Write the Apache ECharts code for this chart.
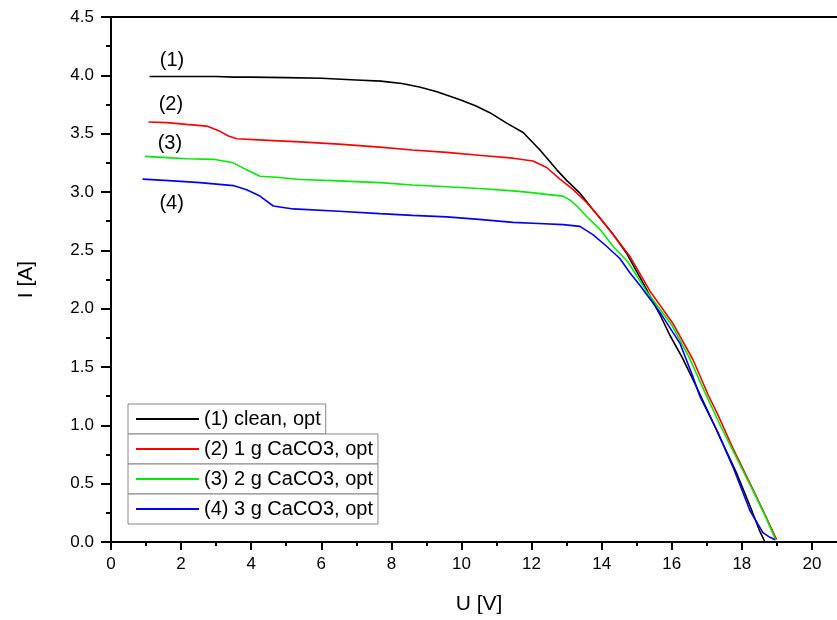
<!DOCTYPE html>
<html>
<head>
<meta charset="utf-8">
<script src="https://cdn.jsdelivr.net/npm/echarts@6/dist/echarts.min.js"></script>
<style>
html,body{margin:0;padding:0;background:#fff;}
#chart{width:837px;height:620px;}
</style>
</head>
<body>
<div id="chart"></div>
<script>
// ---- data ----
const seriesNames = ['(1) clean, opt', '(2) 1 g CaCO3, opt', '(3) 2 g CaCO3, opt', '(4) 3 g CaCO3, opt'];

// [U (V), I (A)]
const cleanIU = [
  [1.1,3.99],[2,3.99],[3,3.99],[3.5,3.985],[4,3.985],[5,3.98],[6,3.975],[7,3.96],[7.7,3.95],
  [8.3,3.93],[8.8,3.90],[9.3,3.86],[9.96,3.79],[10.4,3.74],[10.81,3.68],[11.29,3.59],[11.76,3.51],
  [12.24,3.36],[12.72,3.19],[13.0,3.10],[13.38,2.99],[13.75,2.85],[14.32,2.64],[14.72,2.47],
  [15.2,2.21],[15.66,1.95],[15.95,1.77],[16.3,1.58],[16.61,1.39],[17.0,1.14],[17.4,0.88],
  [17.85,0.59],[18.23,0.31],[18.5,0.10],[18.66,0.0]
];
const caco3g1IU = [
  [1.07,3.60],[1.6,3.595],[2.16,3.58],[2.73,3.565],[3.11,3.52],[3.35,3.48],[3.59,3.456],[4.35,3.445],
  [5.39,3.43],[6.5,3.41],[7.67,3.385],[8.6,3.36],[9.58,3.34],[10.5,3.315],[11.47,3.29],[12.04,3.265],
  [12.43,3.21],[12.81,3.11],[13.19,3.02],[13.57,2.91],[13.95,2.78],[14.52,2.56],[14.8,2.45],
  [15.38,2.15],[16.04,1.87],[16.61,1.56],[17.04,1.26],[17.3,1.10],[17.75,0.80],[18.32,0.45],
  [18.7,0.21],[18.99,0.02]
];
const caco3g2IU = [
  [0.97,3.305],[1.6,3.295],[2.16,3.285],[2.92,3.28],[3.49,3.25],[3.87,3.19],[4.25,3.135],[4.73,3.127],
  [5.39,3.107],[6.5,3.095],[7.67,3.08],[8.6,3.06],[9.58,3.045],[10.5,3.03],[11.47,3.01],[12.0,2.995],
  [12.43,2.98],[12.9,2.965],[13.1,2.93],[13.29,2.88],[13.57,2.79],[13.95,2.68],[14.32,2.535],
  [14.75,2.40],[15.3,2.14],[16.0,1.86],[16.5,1.58],[16.95,1.28],[17.4,0.99],[17.75,0.78],
  [18.3,0.45],[18.7,0.20],[18.96,0.02]
];
const caco3g3IU = [
  [0.9,3.11],[1.77,3.095],[2.54,3.08],[3.49,3.055],[3.87,3.02],[4.25,2.965],[4.63,2.88],[5.2,2.855],
  [6.5,2.835],[7.67,2.815],[8.6,2.80],[9.58,2.787],[10.5,2.765],[11.47,2.74],[12.2,2.73],[12.9,2.72],
  [13.38,2.705],[13.75,2.635],[14.14,2.535],[14.52,2.43],[14.8,2.31],[15.09,2.20],[15.66,1.97],
  [16.23,1.705],[16.6,1.42],[16.8,1.25],[17.3,0.95],[17.75,0.64],[18.23,0.27],[18.6,0.08],
  [18.8,0.04],[18.95,0.02]
];

const curveTags = ['(1)', '(2)', '(3)', '(4)'];
const curveTagU = [1.74, 1.71, 1.68, 1.73];
const curveTagI = [4.13, 3.75, 3.42, 2.90];

const xTickStep = 2;
const yTickStep = 0.5;

// ---- styles ----
const colors = ['#000000', '#ff0000', '#00ee00', '#0000ff'];
const allData = [cleanIU, caco3g1IU, caco3g2IU, caco3g3IU];
const FONT = '"Liberation Sans", Arial, sans-serif';

const chart = echarts.init(document.getElementById('chart'), null, {renderer: 'canvas'});

const lineSeries = allData.map((d, i) => ({
  name: seriesNames[i],
  type: 'line',
  data: d,
  showSymbol: false,
  symbol: 'none',
  lineStyle: {color: colors[i], width: 1.6},
  itemStyle: {color: colors[i]},
  z: 2 + i
}));

const tagSeries = {
  type: 'scatter',
  name: 'tags',
  data: curveTags.map((t, i) => [curveTagU[i], curveTagI[i], t]),
  symbolSize: 0,
  silent: true,
  itemStyle: {opacity: 1, color: '#000'},
  label: {
    show: true,
    position: 'inside',
    formatter: p => p.value[2],
    color: '#000',
    opacity: 1,
    fontSize: 20,
    fontFamily: FONT
  }
};

const legendTops = [404, 434, 464, 494];
const legends = seriesNames.map((n, i) => ({
  data: [n],
  left: 128,
  top: legendTops[i],
  orient: 'horizontal',
  selectedMode: false,
  icon: 'rect',
  itemWidth: 63,
  itemHeight: 2,
  padding: [5, 5, 5, 8],
  borderColor: '#888',
  borderWidth: 1,
  backgroundColor: '#fff',
  textStyle: {fontSize: 20, lineHeight: 20, color: '#000', fontFamily: FONT}
}));

chart.setOption({
  animation: false,
  grid: {left: 111, top: 17, right: -10, bottom: 78, outerBoundsMode: 'none'},
  legend: legends,
  xAxis: [{
    type: 'value',
    min: 0,
    max: 21,
    interval: xTickStep,
    name: 'U [V]',
    nameLocation: 'middle',
    nameGap: 52,
    nameTextStyle: {fontSize: 21, color: '#000', fontFamily: FONT},
    axisLine: {show: true, onZero: false, lineStyle: {color: '#000', width: 2}},
    axisTick: {show: true, length: 8, lineStyle: {color: '#000', width: 2}},
    minorTick: {show: true, splitNumber: 2, length: 4, lineStyle: {color: '#000', width: 2}},
    axisLabel: {
      fontSize: 17, color: '#000', fontFamily: FONT, margin: 14,
      formatter: v => (v % xTickStep === 0 ? String(v) : '')
    },
    splitLine: {show: false}
  }, {
    type: 'value',
    position: 'top',
    min: 0,
    max: 21,
    interval: xTickStep,
    axisLine: {show: true, onZero: false, lineStyle: {color: '#000', width: 2}},
    axisTick: {show: false},
    axisLabel: {show: false},
    splitLine: {show: false}
  }],
  yAxis: {
    type: 'value',
    min: 0,
    max: 4.5,
    interval: yTickStep,
    name: 'I [A]',
    nameLocation: 'middle',
    nameGap: 74,
    nameTextStyle: {fontSize: 21, color: '#000', fontFamily: FONT},
    axisLine: {show: true, onZero: false, lineStyle: {color: '#000', width: 2}},
    axisTick: {show: true, length: 10, lineStyle: {color: '#000', width: 2}},
    minorTick: {show: true, splitNumber: 2, length: 5, lineStyle: {color: '#000', width: 2}},
    axisLabel: {
      fontSize: 17, color: '#000', fontFamily: FONT, margin: 17,
      formatter: v => v.toFixed(1)
    },
    splitLine: {show: false}
  },
  series: [...lineSeries, tagSeries]
});
</script>
</body>
</html>
